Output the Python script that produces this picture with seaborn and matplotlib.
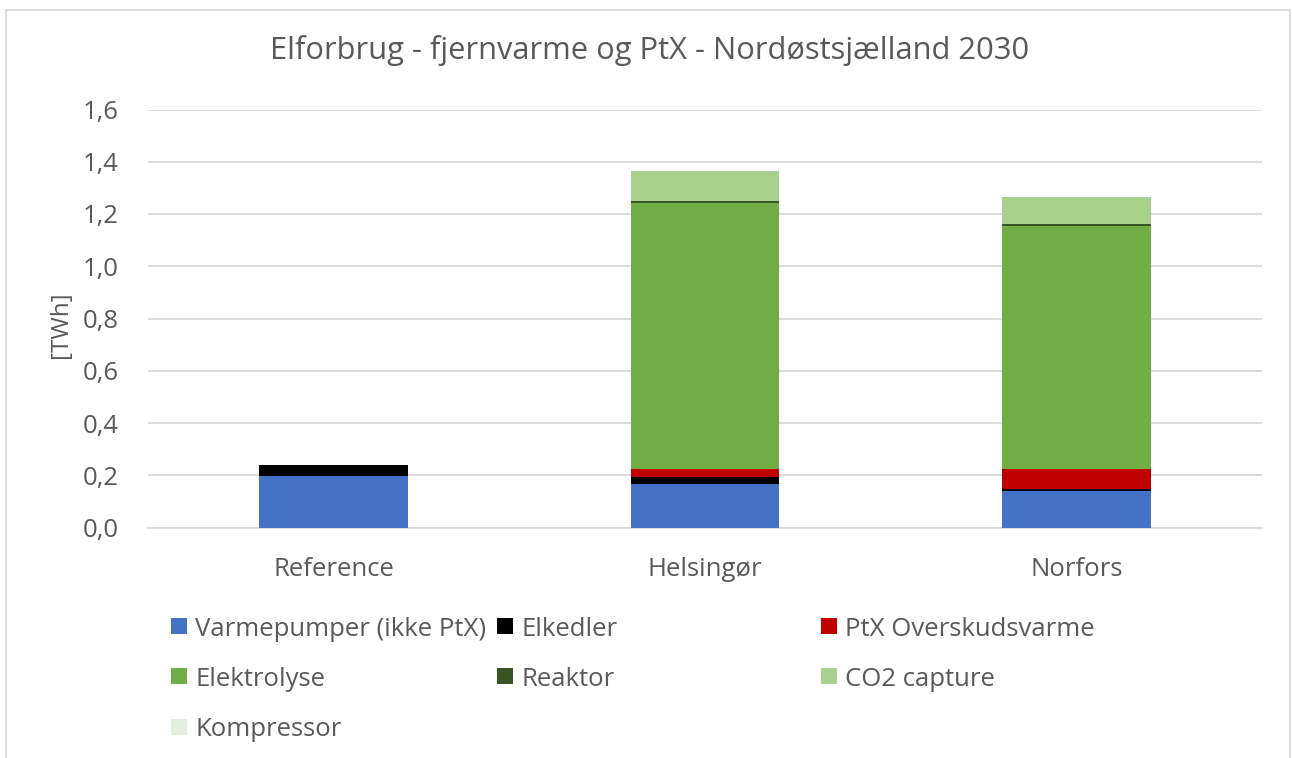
import matplotlib
matplotlib.use("Agg")
import matplotlib.pyplot as plt
from matplotlib.patches import Rectangle
from matplotlib.ticker import FuncFormatter
import numpy as np
import pandas as pd
import seaborn as sns

# Electricity use per area [TWh]
categories = ["Reference", "Helsingør", "Norfors"]
varmepumper = [0.197, 0.168, 0.140]
elkedler = [0.044, 0.024, 0.008]
ptx_overskudsvarme = [0.000, 0.031, 0.076]
elektrolyse = [0.000, 1.018, 0.929]
reaktor = [0.000, 0.008, 0.008]
co2_capture = [0.000, 0.114, 0.105]
kompressor = [0.000, 0.000, 0.000]

series_names = ["Varmepumper (ikke PtX)", "Elkedler", "PtX Overskudsvarme",
                "Elektrolyse", "Reaktor", "CO2 capture", "Kompressor"]
series_values = [varmepumper, elkedler, ptx_overskudsvarme, elektrolyse,
                 reaktor, co2_capture, kompressor]
series_colors = ["#4472C4", "#000000", "#C00000", "#70AD47",
                 "#375623", "#A9D18E", "#E2EFDA"]

y_ticks = [0.0, 0.2, 0.4, 0.6, 0.8, 1.0, 1.2, 1.4, 1.6]

sns.set_theme(style="white")
plt.rcParams["font.family"] = ["Open Sans", "DejaVu Sans"]
text_color = "#595959"
grid_color = "#D9D9D9"

W, H = 1292, 758
fig = plt.figure(figsize=(W / 100, H / 100), dpi=100)
ax = fig.add_axes([148 / W, 1 - 527.5 / H, (1262 - 148) / W, (527.5 - 109.5) / H])

# Stacked bars: draw cumulative totals from the top layer down
df = pd.DataFrame(dict(zip(series_names, series_values)), index=categories)
cum = df.cumsum(axis=1)
for name, color in reversed(list(zip(series_names, series_colors))):
    sns.barplot(x=categories, y=cum[name].values, color=color, width=0.4,
                saturation=1, ax=ax, zorder=3, linewidth=0)

ax.set_ylim(0, 1.6)
ax.set_xlim(-0.5, 2.5)
ax.set_yticks(y_ticks)
ax.yaxis.set_major_formatter(FuncFormatter(lambda v, p: f"{v:.1f}".replace(".", ",")))
ax.grid(axis="y", color=grid_color, linewidth=1.3, zorder=0)
ax.set_axisbelow(True)
for s in ["top", "right", "left"]:
    ax.spines[s].set_visible(False)
ax.spines["bottom"].set_color(grid_color)
ax.spines["bottom"].set_linewidth(1.3)
ax.tick_params(axis="both", length=0, labelsize=18.5, colors=text_color)
ax.tick_params(axis="y", pad=21)
ax.tick_params(axis="x", pad=21)

ax.set_ylabel("[TWh]", fontsize=17.5, color=text_color)
ax.yaxis.set_label_coords(-(148 - 73) / 1114, 0.485)

fig.text(650 / W, 1 - 51 / H, "Elforbrug - fjernvarme og PtX - Nordøstsjælland 2030",
         ha="center", va="center", fontsize=22.2, color=text_color)

# Legend laid out row by row in three columns
col_x = [171, 497, 821]
row_y = [626, 676, 727]
for i, (name, color) in enumerate(zip(series_names, series_colors)):
    r, c = divmod(i, 3)
    px, py = col_x[c], row_y[r]
    fig.patches.append(Rectangle((px / W, 1 - (py + 8) / H), 16 / W, 16 / H,
                                 transform=fig.transFigure, facecolor=color,
                                 edgecolor="none"))
    fig.text((px + 24) / W, 1 - (py + 3) / H, name, ha="left", va="center",
             fontsize=18.5, color=text_color)

# Chart frame
fig.patches.append(Rectangle((6 / W, -0.05), (1290 - 6) / W, 1.05 - 10 / H,
                             transform=fig.transFigure, facecolor="none",
                             edgecolor=grid_color, linewidth=1.3))

fig.savefig("out.png", dpi=100, facecolor="white")
